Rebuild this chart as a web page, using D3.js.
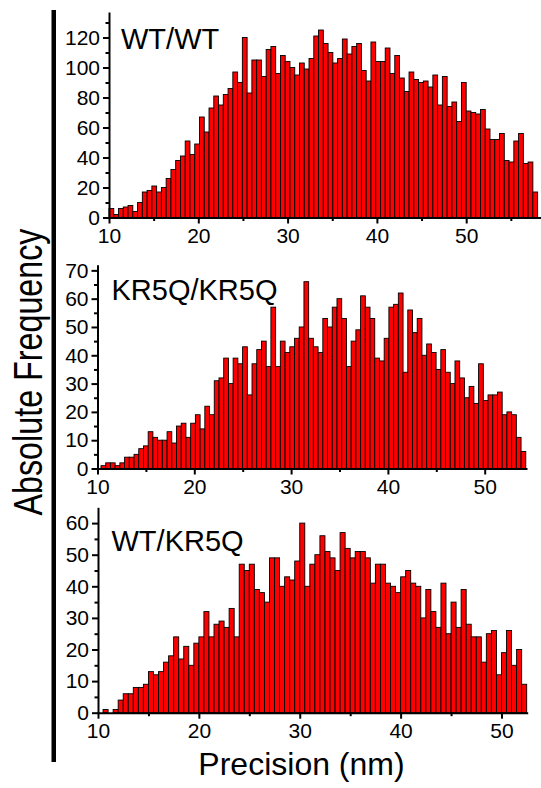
<!DOCTYPE html>
<html><head><meta charset="utf-8">
<script src="https://cdn.jsdelivr.net/npm/d3@7"></script>
<style>
body{margin:0;background:#fff;}
svg{display:block;}
text{font-family:"Liberation Sans",Arial,Helvetica,sans-serif;fill:#000;}
</style>
</head><body>
<svg id="chart" width="541" height="788"></svg>
<script>
// ---- data (counts per histogram bin) ----
const wtwtCounts = [6,2,6,7,8,4,10,17,18,21,17,20,26,32,38,41,51,42,49,67,57,73,81,75,82,86,97,90,120,83,105,105,94,112,114,96,108,104,100,95,103,99,106,121,125,116,110,103,106,119,109,114,116,98,91,117,104,104,113,96,108,93,84,97,92,90,91,87,95,75,94,74,77,64,90,71,70,69,72,59,52,52,56,38,37,51,56,36,37,17];
const kr5qCounts = [1,2,2,1,2,4,4,5,7,8,13,11,10,10,13,9,15,16,11,16,19,14,22,19,31,32,39,30,39,37,43,26,37,42,45,36,57,36,45,41,43,46,50,66,46,43,41,53,50,57,60,53,36,45,49,61,57,53,39,38,46,57,58,62,34,56,48,53,40,44,41,35,42,34,30,38,32,25,29,23,37,24,26,26,27,19,20,19,11,6];
const wtkr5qCounts = [1,0,1,4,6,6,8,8,9,13,12,13,16,18,24,17,21,15,22,24,32,24,28,29,27,33,24,47,45,47,39,38,35,49,49,40,43,42,48,60,40,47,50,56,51,49,45,57,52,49,51,51,49,41,47,47,41,40,38,43,45,41,40,30,39,32,27,41,25,35,27,39,28,24,24,16,25,26,12,19,26,15,20,9];
const panelLabels = ["WT/WT","KR5Q/KR5Q","WT/KR5Q"];
// bin geometry (nm): first bin start, bin width
const binStarts = [10, 10.36, 10.5];
const binWidths = [48/90, 0.4876, 0.5];
const xMajorTicks = [10,20,30,40,50];
const xMinorTicks = [15,25,35,45,55];
const yMajorTicks1 = [0,20,40,60,80,100,120];
const yMinorTicks1 = [10,30,50,70,90,110,130];
const yMajorTicks2 = [0,10,20,30,40,50,60,70];
const yMinorTicks2 = [5,15,25,35,45,55,65];
const yMajorTicks3 = [0,10,20,30,40,50,60];
const yMinorTicks3 = [5,15,25,35,45,55];
const yTitle = "Absolute Frequency";
const xTitle = "Precision (nm)";

// ---- layout ----
const panels = [
  {counts: wtwtCounts, label: panelLabels[0], b0: binStarts[0], bw: binWidths[0],
   xd:[10,58.4], xr:[109,541.2], yd:[0,137], yr:[217.5,12],
   yMaj: yMajorTicks1, yMin: yMinorTicks1, lx:121, ly:48.5},
  {counts: kr5qCounts, label: panelLabels[1], b0: binStarts[1], bw: binWidths[1],
   xd:[10,54.37], xr:[97.5,527], yd:[0,72], yr:[468.5,264.7],
   yMaj: yMajorTicks2, yMin: yMinorTicks2, lx:111.5, ly:299.5},
  {counts: wtkr5qCounts, label: panelLabels[2], b0: binStarts[2], bw: binWidths[2],
   xd:[10,52.6], xr:[98,527.7], yd:[0,65], yr:[712.7,507.3],
   yMaj: yMajorTicks3, yMin: yMinorTicks3, lx:111.5, ly:551}
];

const svg = d3.select("#chart");

panels.forEach(p => {
  const x = d3.scaleLinear().domain(p.xd).range(p.xr);
  const y = d3.scaleLinear().domain(p.yd).range(p.yr);
  const g = svg.append("g");
  const bins = p.counts.map((c,i) => ({x0: p.b0 + i*p.bw, x1: p.b0 + (i+1)*p.bw, c}));

  g.selectAll("rect.bar").data(bins).enter().append("rect")
    .attr("class","bar")
    .attr("x", d => x(d.x0))
    .attr("width", d => x(d.x1) - x(d.x0))
    .attr("y", d => y(d.c))
    .attr("height", d => y(0) - y(d.c))
    .attr("fill", "#ff0000")
    .attr("stroke", "#000")
    .attr("stroke-width", 0.9);

  // x axis
  const xAxis = d3.axisBottom(x).tickValues(xMajorTicks).tickFormat(d3.format("d"))
      .tickSize(6).tickSizeOuter(0).tickPadding(4.5);
  const xa = g.append("g").attr("transform", `translate(0,${y(0)})`).call(xAxis);
  const xMinAxis = d3.axisBottom(x).tickValues(xMinorTicks.filter(v => v <= p.xd[1]))
      .tickFormat("").tickSize(3.5).tickSizeOuter(0);
  const xm = g.append("g").attr("transform", `translate(0,${y(0)})`).call(xMinAxis);
  xm.select(".domain").remove();

  // y axis
  const yAxis = d3.axisLeft(y).tickValues(p.yMaj).tickFormat(d3.format("d"))
      .tickSize(6).tickSizeOuter(0).tickPadding(3);
  const ya = g.append("g").attr("transform", `translate(${x(10)},0)`).call(yAxis);
  const yMinAxis = d3.axisLeft(y).tickValues(p.yMin.filter(v => v <= p.yd[1]))
      .tickFormat("").tickSize(3.5).tickSizeOuter(0);
  const ym = g.append("g").attr("transform", `translate(${x(10)},0)`).call(yMinAxis);
  ym.select(".domain").remove();

  [xa, xm, ya, ym].forEach(a => {
    a.selectAll("path, line").attr("stroke", "#000").attr("stroke-width", 2);
    a.selectAll("text").attr("font-size", 21).attr("fill", "#000")
      .style("font-family", '"Liberation Sans",Arial,sans-serif');
  });

  g.append("text").attr("x", p.lx).attr("y", p.ly)
    .attr("font-size", 29).text(p.label);
});

// big left bar
svg.append("rect").attr("x", 51.5).attr("y", 10).attr("width", 4.5).attr("height", 752).attr("fill", "#000");

// y title
svg.append("text")
  .attr("transform", "translate(42,372) rotate(-90)")
  .attr("text-anchor", "middle")
  .attr("font-size", 41)
  .attr("textLength", 287)
  .attr("lengthAdjust", "spacingAndGlyphs")
  .text(yTitle);

// x title
svg.append("text")
  .attr("x", 301.5).attr("y", 775)
  .attr("text-anchor", "middle")
  .attr("font-size", 32)
  .text(xTitle);
</script>
</body></html>
